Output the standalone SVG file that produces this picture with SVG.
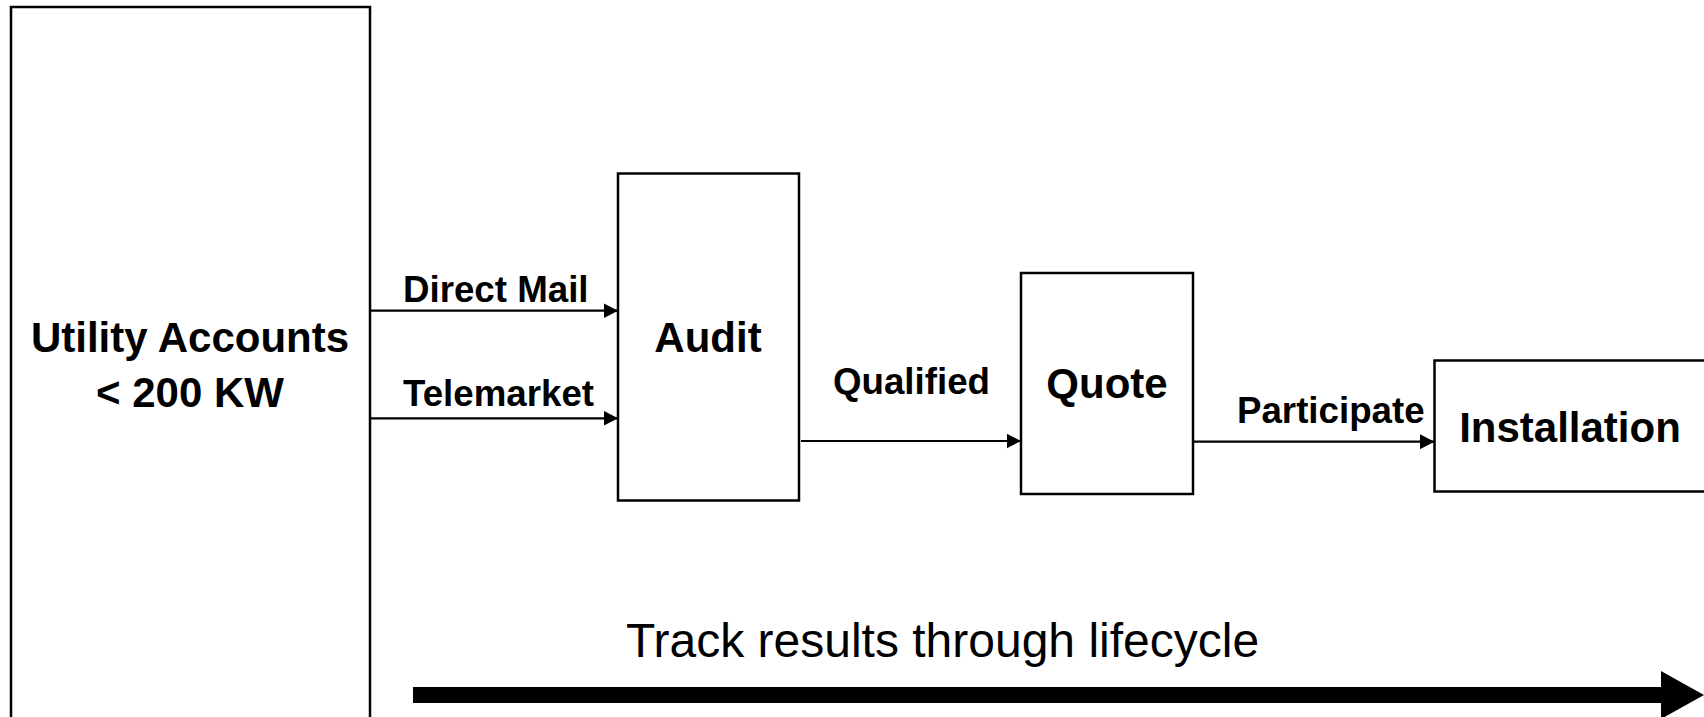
<svg xmlns="http://www.w3.org/2000/svg" width="1704" height="717" viewBox="0 0 1704 717">
<style>
.box{fill:#fff;stroke:#000;stroke-width:2.5}
.conn{stroke:#000;stroke-width:2.2;fill:none}
.t{font-family:"Liberation Sans",Arial,sans-serif;font-weight:bold;fill:#000}
.big{font-size:42px;text-anchor:middle}
.lbl{font-size:36.7px}
.track{font-family:"Liberation Sans",Arial,sans-serif;font-size:48px;fill:#000}
</style>
<defs>
<marker id="ah" markerWidth="14.5" markerHeight="15" refX="14.5" refY="7.5" orient="auto" markerUnits="userSpaceOnUse">
<path d="M0,0 L14.5,7.5 L0,15 Z" fill="#000"/>
</marker>
</defs>
<rect width="1704" height="717" fill="#fff"/>
<g id="utility">
<rect class="box" x="11" y="7" width="359" height="730"/>
<text class="t big" x="190" y="352">Utility Accounts</text>
<text class="t big" x="190" y="407">&lt; 200 KW</text>
</g>
<g id="audit">
<rect class="box" x="618" y="173.5" width="181" height="327"/>
<text class="t big" x="708" y="352">Audit</text>
</g>
<g id="quote">
<rect class="box" x="1021" y="273" width="172" height="221"/>
<text class="t big" x="1107" y="398">Quote</text>
</g>
<g id="installation">
<rect class="box" x="1434.5" y="360.5" width="300" height="131"/>
<text class="t big" x="1570" y="441.5">Installation</text>
</g>
<g id="connectors">
<line class="conn" x1="370" y1="310.7" x2="618" y2="310.7" marker-end="url(#ah)"/>
<line class="conn" x1="370" y1="418.3" x2="618" y2="418.3" marker-end="url(#ah)"/>
<line class="conn" x1="801" y1="441" x2="1021" y2="441" marker-end="url(#ah)"/>
<line class="conn" x1="1193" y1="441.7" x2="1434.5" y2="441.7" marker-end="url(#ah)"/>
<path d="M413,687 L1661,687 L1661,671 L1704,695 L1661,719 L1661,703 L413,703 Z" fill="#000"/>
</g>
<g id="labels">
<text class="t lbl" x="403" y="301.5">Direct Mail</text>
<text class="t lbl" x="403" y="406">Telemarket</text>
<text class="t lbl" x="833" y="394">Qualified</text>
<text class="t lbl" x="1237" y="423.3">Participate</text>
<text class="track" x="626" y="657">Track results through lifecycle</text>
</g>
</svg>
